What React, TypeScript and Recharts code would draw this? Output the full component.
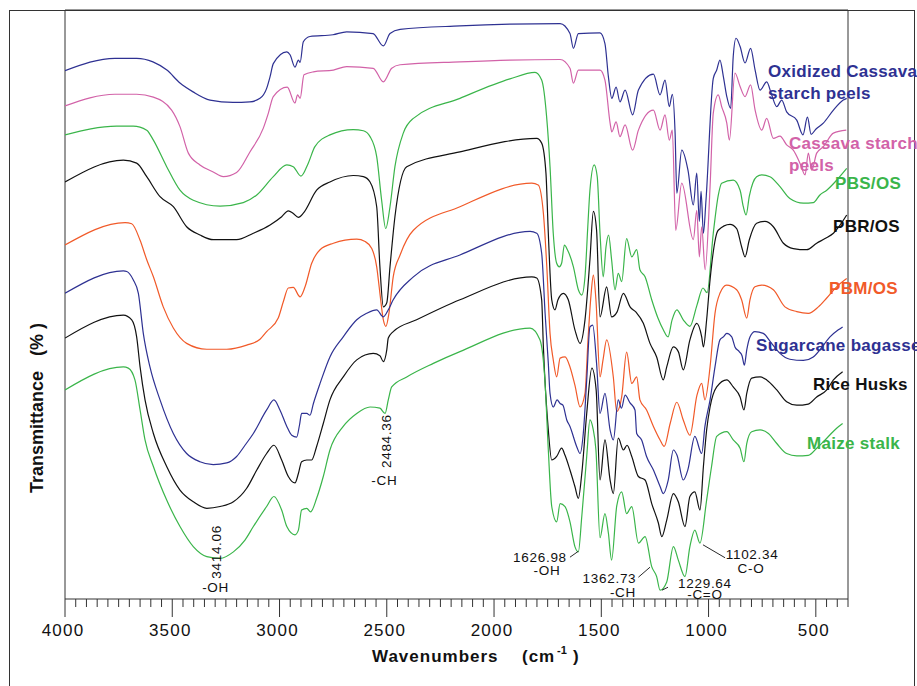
import React from 'react';
import { LineChart, Line, XAxis, YAxis, ReferenceLine, ReferenceDot } from 'recharts';

type Pt = [number, number];

// Wavenumber (cm-1), transmittance (arbitrary offset %)
const oxidizedCassava: Pt[] = [
  [4000, 89.7], [3767, 91.8], [3666, 91.8], [3590, 91.2], [3525, 89.8], [3464, 87.6], [3403, 86.1], [3324, 84.7],
  [3217, 84.3], [3138, 84.4], [3091, 85.0], [3060, 86.7], [3044, 88.7], [3029, 90.9], [2966, 92.9], [2951, 92.4],
  [2928, 90.3], [2912, 91.5], [2904, 91.1], [2889, 94.6], [2858, 95.5], [2751, 95.8], [2687, 96.3], [2564, 96.0],
  [2516, 93.9], [2485, 96.0], [2438, 96.7], [2159, 97.3], [1926, 97.6], [1692, 97.7], [1646, 96.0], [1630, 93.5],
  [1607, 96.0], [1506, 96.1], [1483, 94.3], [1467, 88.7], [1451, 85.0], [1431, 86.9], [1413, 84.4], [1389, 86.4],
  [1354, 82.2], [1327, 86.4], [1257, 89.1], [1226, 85.6], [1203, 88.1], [1183, 83.6], [1169, 85.7], [1156, 79.1],
  [1148, 68.9], [1125, 76.2], [1096, 72.8], [1071, 66.9], [1055, 72.3], [1043, 64.1], [1035, 69.2], [1024, 62.1],
  [1012, 67.7], [978, 88.4], [962, 89.8], [947, 91.5], [931, 88.7], [915, 85.3], [897, 83.3], [885, 92.1],
  [872, 95.2], [853, 93.8], [830, 91.0], [804, 93.5], [783, 89.8], [760, 86.4], [729, 87.8], [706, 85.6],
  [682, 83.6], [659, 84.7], [636, 82.7], [589, 81.3], [560, 78.8], [539, 81.8], [522, 78.9], [499, 79.8],
  [465, 80.8], [418, 83.0], [372, 84.7], [356, 85.0],
];

const cassavaStarch: Pt[] = [
  [4000, 83.7], [3767, 85.7], [3666, 85.7], [3588, 85.2], [3503, 83.0], [3464, 80.2], [3425, 75.7], [3371, 73.7],
  [3309, 72.5], [3262, 71.7], [3200, 72.4], [3138, 75.9], [3076, 79.9], [3052, 82.5], [3029, 85.3], [2964, 86.9],
  [2928, 84.2], [2916, 85.6], [2904, 85.0], [2886, 89.0], [2842, 89.5], [2749, 89.8], [2687, 90.4], [2563, 90.1],
  [2516, 87.8], [2477, 90.1], [2438, 90.7], [2159, 91.2], [1926, 91.5], [1692, 91.6], [1646, 90.1], [1630, 87.6],
  [1607, 89.8], [1506, 89.8], [1483, 88.1], [1459, 80.8], [1451, 79.3], [1431, 81.0], [1413, 78.5], [1389, 80.5],
  [1354, 76.2], [1327, 79.6], [1257, 83.0], [1226, 79.6], [1203, 82.2], [1183, 77.9], [1169, 79.6], [1153, 62.6],
  [1125, 70.6], [1071, 61.0], [1055, 66.0], [1043, 58.1], [1032, 63.2], [1016, 55.9], [993, 70.0], [978, 82.5],
  [955, 85.6], [939, 83.6], [915, 80.8], [903, 77.9], [877, 89.3], [853, 87.0], [830, 85.3], [804, 87.3],
  [783, 83.0], [752, 79.6], [729, 81.6], [698, 78.2], [667, 78.6], [636, 77.1], [605, 76.2], [574, 74.0],
  [550, 72.0], [535, 75.7], [519, 72.8], [496, 75.7], [465, 76.8], [418, 79.1], [358, 79.6],
];

const pbsOs: Pt[] = [
  [4000, 78.8], [3759, 80.3], [3682, 80.3], [3619, 79.6], [3588, 77.9], [3526, 73.4], [3464, 69.4], [3402, 67.7],
  [3277, 66.7], [3169, 67.3], [3106, 68.6], [3029, 71.7], [2966, 73.7], [2936, 73.4], [2900, 71.8], [2866, 74.0],
  [2835, 76.8], [2765, 78.8], [2656, 79.7], [2609, 79.5], [2578, 78.5], [2547, 75.1], [2524, 67.7], [2505, 62.9],
  [2485, 66.6], [2462, 73.4], [2423, 79.1], [2376, 81.6], [2159, 85.0], [1926, 88.3], [1809, 89.4], [1778, 88.1],
  [1755, 81.9], [1739, 73.4], [1724, 62.1], [1708, 57.0], [1696, 56.4], [1685, 57.0], [1672, 60.1], [1658, 59.3],
  [1630, 56.4], [1607, 52.5], [1591, 51.6], [1576, 54.7], [1563, 63.2], [1553, 69.4], [1533, 73.7], [1519, 71.7],
  [1506, 62.1], [1491, 54.7], [1478, 59.8], [1466, 61.8], [1452, 57.6], [1436, 52.5], [1421, 55.3], [1405, 53.9],
  [1382, 61.2], [1358, 58.1], [1335, 59.3], [1320, 55.9], [1296, 54.7], [1265, 50.8], [1236, 47.7], [1211, 45.7],
  [1189, 44.5], [1170, 47.4], [1148, 49.1], [1118, 47.4], [1087, 46.3], [1054, 49.9], [1026, 52.8], [1007, 52.0],
  [978, 62.1], [955, 68.5], [939, 70.6], [885, 71.1], [853, 69.4], [838, 66.6], [825, 65.2], [810, 68.4],
  [776, 71.7], [752, 72.0], [714, 71.7], [667, 70.0], [621, 68.0], [558, 67.2], [512, 67.3], [481, 68.6],
  [449, 69.4], [403, 71.1], [356, 73.1],
];

const pbrOs: Pt[] = [
  [4000, 70.8], [3728, 74.5], [3666, 74.0], [3619, 71.7], [3557, 68.3], [3495, 66.6], [3433, 63.2], [3371, 61.8],
  [3309, 61.0], [3200, 61.0], [3122, 62.1], [3044, 63.5], [2990, 64.9], [2959, 65.9], [2937, 65.5], [2912, 64.8],
  [2889, 65.5], [2827, 69.4], [2765, 70.8], [2656, 71.9], [2609, 71.7], [2578, 70.8], [2547, 66.6], [2532, 56.4],
  [2516, 49.6], [2500, 50.3], [2485, 56.4], [2462, 64.9], [2407, 73.4], [2159, 75.9], [1801, 78.2], [1778, 77.4],
  [1758, 72.3], [1747, 62.1], [1731, 50.8], [1716, 49.1], [1702, 50.8], [1677, 51.9], [1654, 50.8], [1623, 45.7],
  [1599, 43.4], [1576, 47.4], [1553, 57.6], [1537, 65.8], [1522, 62.6], [1506, 47.9], [1475, 53.0], [1452, 47.9],
  [1427, 48.7], [1397, 51.9], [1366, 49.6], [1338, 48.7], [1304, 46.8], [1273, 43.4], [1242, 41.1], [1211, 37.2],
  [1195, 39.4], [1164, 42.8], [1141, 42.0], [1118, 38.9], [1087, 44.0], [1055, 46.8], [1032, 44.5], [1024, 42.8],
  [1009, 47.4], [993, 54.2], [955, 62.6], [900, 63.6], [869, 62.9], [846, 59.8], [830, 58.1], [810, 61.0],
  [776, 63.8], [737, 64.1], [698, 63.2], [651, 60.4], [605, 59.5], [543, 59.3], [496, 60.4], [457, 61.2],
  [418, 62.1], [356, 65.2],
];

const pbmOs: Pt[] = [
  [4000, 60.1], [3720, 63.9], [3689, 63.7], [3650, 60.9], [3619, 57.6], [3588, 54.7], [3542, 49.6], [3495, 46.0],
  [3433, 43.4], [3339, 42.4], [3246, 42.4], [3153, 43.1], [3091, 44.1], [3060, 45.4], [3006, 47.7], [2982, 50.5],
  [2959, 52.8], [2936, 52.9], [2904, 51.3], [2881, 53.0], [2850, 57.0], [2811, 59.3], [2749, 60.4], [2640, 61.1],
  [2601, 60.7], [2570, 59.5], [2547, 56.4], [2532, 51.9], [2516, 47.4], [2504, 46.3], [2490, 48.5], [2470, 54.7],
  [2438, 58.4], [2376, 62.6], [2159, 66.6], [1824, 70.6], [1794, 70.3], [1770, 65.5], [1754, 56.4], [1739, 45.1],
  [1724, 40.6], [1708, 37.7], [1692, 40.9], [1669, 41.1], [1646, 39.4], [1623, 36.3], [1599, 32.6], [1576, 34.9],
  [1562, 44.0], [1548, 51.6], [1537, 55.0], [1525, 50.8], [1506, 37.7], [1492, 40.6], [1475, 44.0], [1444, 37.7],
  [1428, 31.8], [1405, 34.3], [1382, 41.9], [1358, 36.6], [1335, 37.7], [1320, 33.8], [1289, 32.1], [1257, 29.3],
  [1226, 27.0], [1207, 25.9], [1179, 29.8], [1148, 33.4], [1118, 30.4], [1087, 27.8], [1054, 34.6], [1032, 36.6],
  [1017, 33.8], [993, 39.4], [970, 48.5], [947, 51.9], [916, 53.3], [869, 52.5], [846, 50.8], [822, 47.7],
  [807, 50.8], [784, 53.0], [752, 53.3], [698, 52.5], [644, 49.6], [589, 48.8], [535, 48.5], [488, 49.6],
  [449, 51.1], [403, 53.0], [356, 54.4],
];

const sugarcaneBagasse: Pt[] = [
  [4000, 51.9], [3728, 55.7], [3712, 55.6], [3682, 54.2], [3658, 51.9], [3635, 45.1], [3604, 39.4], [3557, 33.8],
  [3495, 28.1], [3433, 24.7], [3371, 23.3], [3309, 22.8], [3246, 23.1], [3200, 24.2], [3161, 26.1], [3122, 28.1],
  [3060, 32.1], [3026, 33.8], [2998, 32.1], [2966, 29.3], [2943, 27.8], [2920, 27.5], [2907, 29.5], [2897, 31.5],
  [2873, 31.5], [2858, 31.2], [2842, 33.2], [2811, 36.6], [2765, 41.1], [2703, 44.5], [2640, 47.4], [2594, 48.5],
  [2547, 49.1], [2516, 47.9], [2493, 49.1], [2470, 50.8], [2376, 54.7], [2159, 58.4], [1832, 62.4], [1801, 62.1],
  [1778, 58.7], [1762, 48.5], [1747, 40.0], [1739, 34.9], [1724, 32.6], [1706, 33.8], [1692, 33.2], [1679, 32.9],
  [1661, 30.4], [1646, 29.3], [1615, 25.9], [1599, 24.7], [1584, 28.1], [1568, 37.2], [1553, 46.2], [1540, 46.5],
  [1522, 40.0], [1506, 31.5], [1483, 34.9], [1459, 28.7], [1444, 27.0], [1421, 33.8], [1406, 32.4], [1389, 34.6],
  [1366, 33.3], [1343, 32.1], [1335, 28.1], [1312, 27.0], [1289, 24.2], [1257, 21.9], [1226, 19.1], [1211, 17.9],
  [1188, 20.2], [1164, 25.3], [1147, 24.4], [1118, 20.2], [1096, 22.0], [1064, 27.6], [1032, 24.7], [1017, 29.3],
  [993, 33.8], [970, 39.4], [947, 44.0], [931, 44.5], [915, 45.1], [892, 44.5], [877, 42.8], [857, 42.0],
  [844, 41.3], [833, 39.7], [822, 42.3], [807, 44.5], [784, 45.4], [745, 45.1], [706, 43.4], [667, 41.7],
  [621, 40.7], [558, 40.5], [512, 41.1], [481, 42.3], [434, 44.5], [395, 45.7], [375, 46.2],
];

const riceHusks: Pt[] = [
  [4000, 44.3], [3728, 48.2], [3689, 47.4], [3666, 44.5], [3650, 39.4], [3627, 33.8], [3588, 28.1], [3526, 22.5],
  [3464, 18.5], [3402, 16.5], [3339, 15.4], [3277, 15.7], [3215, 16.5], [3153, 18.8], [3106, 21.9], [3060, 24.7],
  [3026, 26.1], [2990, 23.6], [2959, 20.8], [2928, 19.7], [2912, 21.3], [2897, 23.3], [2873, 23.6], [2850, 23.6],
  [2827, 25.9], [2796, 29.8], [2765, 33.8], [2703, 37.7], [2640, 40.6], [2563, 41.7], [2532, 41.3], [2516, 40.3],
  [2500, 42.3], [2493, 44.3], [2470, 45.4], [2361, 47.4], [2159, 50.8], [1824, 54.7], [1801, 54.5], [1778, 50.8],
  [1770, 42.8], [1747, 28.7], [1731, 23.6], [1708, 24.2], [1685, 25.6], [1669, 24.4], [1646, 21.9], [1623, 19.1],
  [1607, 17.1], [1591, 21.3], [1568, 31.5], [1544, 39.2], [1524, 35.5], [1506, 20.2], [1483, 27.0], [1459, 20.2],
  [1444, 17.9], [1421, 27.3], [1397, 25.3], [1380, 26.1], [1358, 24.2], [1327, 20.8], [1296, 20.2], [1265, 16.2],
  [1234, 12.9], [1218, 10.6], [1195, 13.4], [1164, 17.9], [1141, 16.5], [1110, 12.3], [1087, 17.4], [1064, 18.2],
  [1040, 15.1], [1024, 22.5], [1009, 28.7], [993, 32.6], [962, 36.0], [915, 37.2], [885, 36.0], [853, 34.3],
  [835, 32.1], [822, 34.9], [799, 37.5], [760, 37.7], [729, 37.2], [682, 35.5], [636, 33.5], [589, 32.9],
  [535, 33.1], [496, 34.3], [449, 35.5], [418, 37.2], [375, 38.6],
];

const maizeStalk: Pt[] = [
  [4000, 35.5], [3728, 39.4], [3705, 39.2], [3674, 37.2], [3650, 32.1], [3627, 27.0], [3588, 22.5], [3526, 16.8],
  [3464, 12.3], [3402, 8.9], [3339, 7.2], [3277, 6.9], [3215, 8.0], [3161, 10.0], [3122, 12.3], [3060, 15.7],
  [3026, 17.4], [2990, 15.1], [2966, 12.3], [2928, 10.9], [2912, 11.7], [2897, 15.1], [2873, 15.4], [2855, 14.8],
  [2827, 17.1], [2796, 20.8], [2765, 25.3], [2703, 29.3], [2640, 31.5], [2578, 32.6], [2532, 32.4], [2508, 31.5],
  [2493, 33.8], [2477, 36.0], [2407, 37.7], [2283, 40.0], [2159, 42.0], [1832, 46.0], [1786, 44.0], [1762, 36.6],
  [1747, 25.3], [1731, 15.7], [1708, 13.1], [1692, 16.2], [1669, 15.7], [1646, 13.1], [1623, 8.9], [1607, 8.0],
  [1591, 14.0], [1568, 24.2], [1553, 30.4], [1539, 29.0], [1525, 25.3], [1506, 10.4], [1483, 14.5], [1467, 11.2],
  [1452, 6.6], [1428, 15.8], [1405, 18.2], [1382, 14.5], [1358, 15.7], [1327, 9.5], [1296, 10.6], [1265, 5.5],
  [1242, 3.8], [1226, 1.5], [1195, 2.9], [1164, 8.9], [1141, 6.6], [1110, 3.8], [1087, 8.9], [1064, 11.7],
  [1040, 9.5], [1009, 16.8], [986, 22.5], [962, 27.6], [915, 28.4], [885, 27.0], [853, 25.6], [835, 23.3],
  [822, 26.4], [799, 28.4], [760, 28.7], [721, 28.1], [682, 26.4], [636, 24.7], [589, 24.3], [535, 24.4],
  [496, 25.6], [449, 27.3], [403, 29.0], [375, 29.8],
];

const majorTicks = [4000, 3500, 3000, 2500, 2000, 1500, 1000, 500];

const annotationTexts = [
  { wn: 3293, t: 8.0, text: '3414.06', rotate: true },
  { wn: 3298, t: 2.0, text: '-OH', rotate: false },
  { wn: 2500, t: 26.8, text: '2484.36', rotate: true },
  { wn: 2511, t: 20.2, text: '-CH', rotate: false },
  { wn: 1786, t: 7.1, text: '1626.98', rotate: false },
  { wn: 1753, t: 4.8, text: '-OH', rotate: false },
  { wn: 1462, t: 3.4, text: '1362.73', rotate: false },
  { wn: 1399, t: 1.1, text: '-CH', rotate: false },
  { wn: 1017, t: 2.7, text: '1229.64', rotate: false },
  { wn: 1017, t: 0.7, text: '-C=O', rotate: false },
  { wn: 797, t: 7.5, text: '1102.34', rotate: false },
  { wn: 802, t: 5.2, text: 'C-O', rotate: false },
];

const leaderLines: [Pt, Pt][] = [
  [[1646, 7.1], [1607, 8.1]],
  [[1327, 3.7], [1273, 5.4]],
  [[1217, 1.5], [1189, 2.0]],
  [[1026, 9.2], [923, 7.0]],
];

const NAVY = '#2e3192';
const PINK = '#d262a8';
const GREEN = '#3ab54a';
const BLACK = '#111111';
const ORANGE = '#f15a29';

const series = [
  { name: 'Oxidized Cassava starch peels', data: oxidizedCassava, color: NAVY },
  { name: 'Cassava starch peels', data: cassavaStarch, color: PINK },
  { name: 'PBS/OS', data: pbsOs, color: GREEN },
  { name: 'PBR/OS', data: pbrOs, color: BLACK },
  { name: 'PBM/OS', data: pbmOs, color: ORANGE },
  { name: 'Sugarcane bagasse', data: sugarcaneBagasse, color: NAVY },
  { name: 'Rice Husks', data: riceHusks, color: BLACK },
  { name: 'Maize stalk', data: maizeStalk, color: GREEN },
];

const legendLabels = [
  { lines: ['Oxidized Cassava', 'starch peels'], x: 768, y: 71, color: NAVY },
  { lines: ['Cassava starch', 'peels'], x: 789, y: 143, color: PINK },
  { lines: ['PBS/OS'], x: 835, y: 183, color: GREEN },
  { lines: ['PBR/OS'], x: 833, y: 226, color: BLACK },
  { lines: ['PBM/OS'], x: 829, y: 288, color: ORANGE },
  { lines: ['Sugarcane bagasse'], x: 756, y: 345, color: NAVY },
  { lines: ['Rice Husks'], x: 813, y: 384, color: BLACK },
  { lines: ['Maize stalk'], x: 807, y: 443, color: GREEN },
];

const FONT = '"Liberation Sans", Arial, Helvetica, sans-serif';

const xTicks: number[] = [];
for (let v = 4000; v >= 350; v -= 50) xTicks.push(v);

const XTick = (props: any) => {
  const { x, y, payload } = props;
  const v = payload.value;
  const major = majorTicks.includes(v);
  return (
    <g>
      <line x1={x} x2={x} y1={y} y2={y + (major ? 18 : 8)} stroke="#333" strokeWidth={1} />
      {major && (
        <text x={x - 2} y={y + 37} textAnchor="middle" fontSize={17} letterSpacing={1.2} fill="#111" fontFamily={FONT}>
          {v}
        </text>
      )}
    </g>
  );
};

const rows = (pts: Pt[]) => pts.map(([wn, t]) => ({ wn, t }));

export default function App() {
  return (
    <div style={{ position: 'fixed', left: 0, top: 0, width: 917, height: 686, overflow: 'hidden', background: '#fff' }}>
      <div
        style={{
          position: 'absolute', left: 9, top: 10, width: 906, height: 700, boxSizing: 'border-box',
          borderLeft: '1px solid #333', borderTop: '1px solid #333', borderRight: '1px solid #333',
        }}
      />
      <div style={{ position: 'absolute', left: 0, top: 0 }}>
        <LineChart width={917} height={686} margin={{ top: 10, right: 69, bottom: 27, left: 65 }}>
          <XAxis
            dataKey="wn"
            type="number"
            domain={[350, 4000]}
            reversed
            allowDataOverflow
            ticks={xTicks}
            interval={0}
            tick={<XTick />}
            tickLine={false}
            tickSize={0}
            tickMargin={0}
            axisLine={{ stroke: '#333', strokeWidth: 1 }}
            height={60}
          />
          <YAxis hide type="number" domain={[0, 100]} allowDataOverflow />
          <ReferenceLine x={4000} stroke="#333" strokeWidth={1} />
          <ReferenceLine x={350} stroke="#333" strokeWidth={1} />
          <ReferenceLine y={100} stroke="#333" strokeWidth={1} />
          {series.map((s) => (
            <Line
              key={s.name}
              name={s.name}
              data={rows(s.data)}
              dataKey="t"
              type="monotone"
              stroke={s.color}
              strokeWidth={1.2}
              dot={false}
              activeDot={false}
              isAnimationActive={false}
            />
          ))}
          {leaderLines.map((seg, i) => (
            <ReferenceLine
              key={'ld' + i}
              segment={[{ x: seg[0][0], y: seg[0][1] }, { x: seg[1][0], y: seg[1][1] }]}
              stroke="#111"
              strokeWidth={0.9}
            />
          ))}
          {annotationTexts.map((a, i) => (
            <ReferenceDot
              key={'an' + i}
              x={a.wn}
              y={a.t}
              r={0}
              shape={(p: any) => (
                <text
                  x={p.cx}
                  y={p.cy}
                  textAnchor="middle"
                  dominantBaseline="central"
                  fontSize={13.5}
                  letterSpacing={0.7}
                  fill="#111"
                  fontFamily={FONT}
                  transform={a.rotate ? `rotate(-90 ${p.cx} ${p.cy})` : undefined}
                >
                  {a.text}
                </text>
              )}
            />
          ))}
        </LineChart>
      </div>
      <svg width={917} height={686} style={{ position: 'absolute', left: 0, top: 0, pointerEvents: 'none' }}>
        {legendLabels.map((l) =>
          l.lines.map((line, j) => (
            <text
              key={line}
              x={l.x}
              y={l.y + j * 22}
              dominantBaseline="central"
              fontSize={17}
              fontWeight="bold"
              letterSpacing={0.3}
              fill={l.color}
              fontFamily={FONT}
            >
              {line}
            </text>
          ))
        )}
        <text
          x={37}
          y={408}
          transform="rotate(-90 37 408)"
          textAnchor="middle"
          dominantBaseline="central"
          fontSize={18}
          fontWeight="bold"
          fill="#111"
          fontFamily={FONT}
          style={{ whiteSpace: 'pre' }}
        >
          {'Transmittance   (% )'}
        </text>
        <text x={372} y={662} fontSize={17} fontWeight="bold" letterSpacing={1} fill="#111" fontFamily={FONT}>
          Wavenumbers
        </text>
        <text x={522} y={662} fontSize={17} fontWeight="bold" letterSpacing={1} fill="#111" fontFamily={FONT}>
          (cm
        </text>
        <text x={557} y={654} fontSize={11} fontWeight="bold" fill="#111" fontFamily={FONT}>
          -1
        </text>
        <text x={573} y={662} fontSize={17} fontWeight="bold" fill="#111" fontFamily={FONT}>
          )
        </text>
      </svg>
    </div>
  );
}
